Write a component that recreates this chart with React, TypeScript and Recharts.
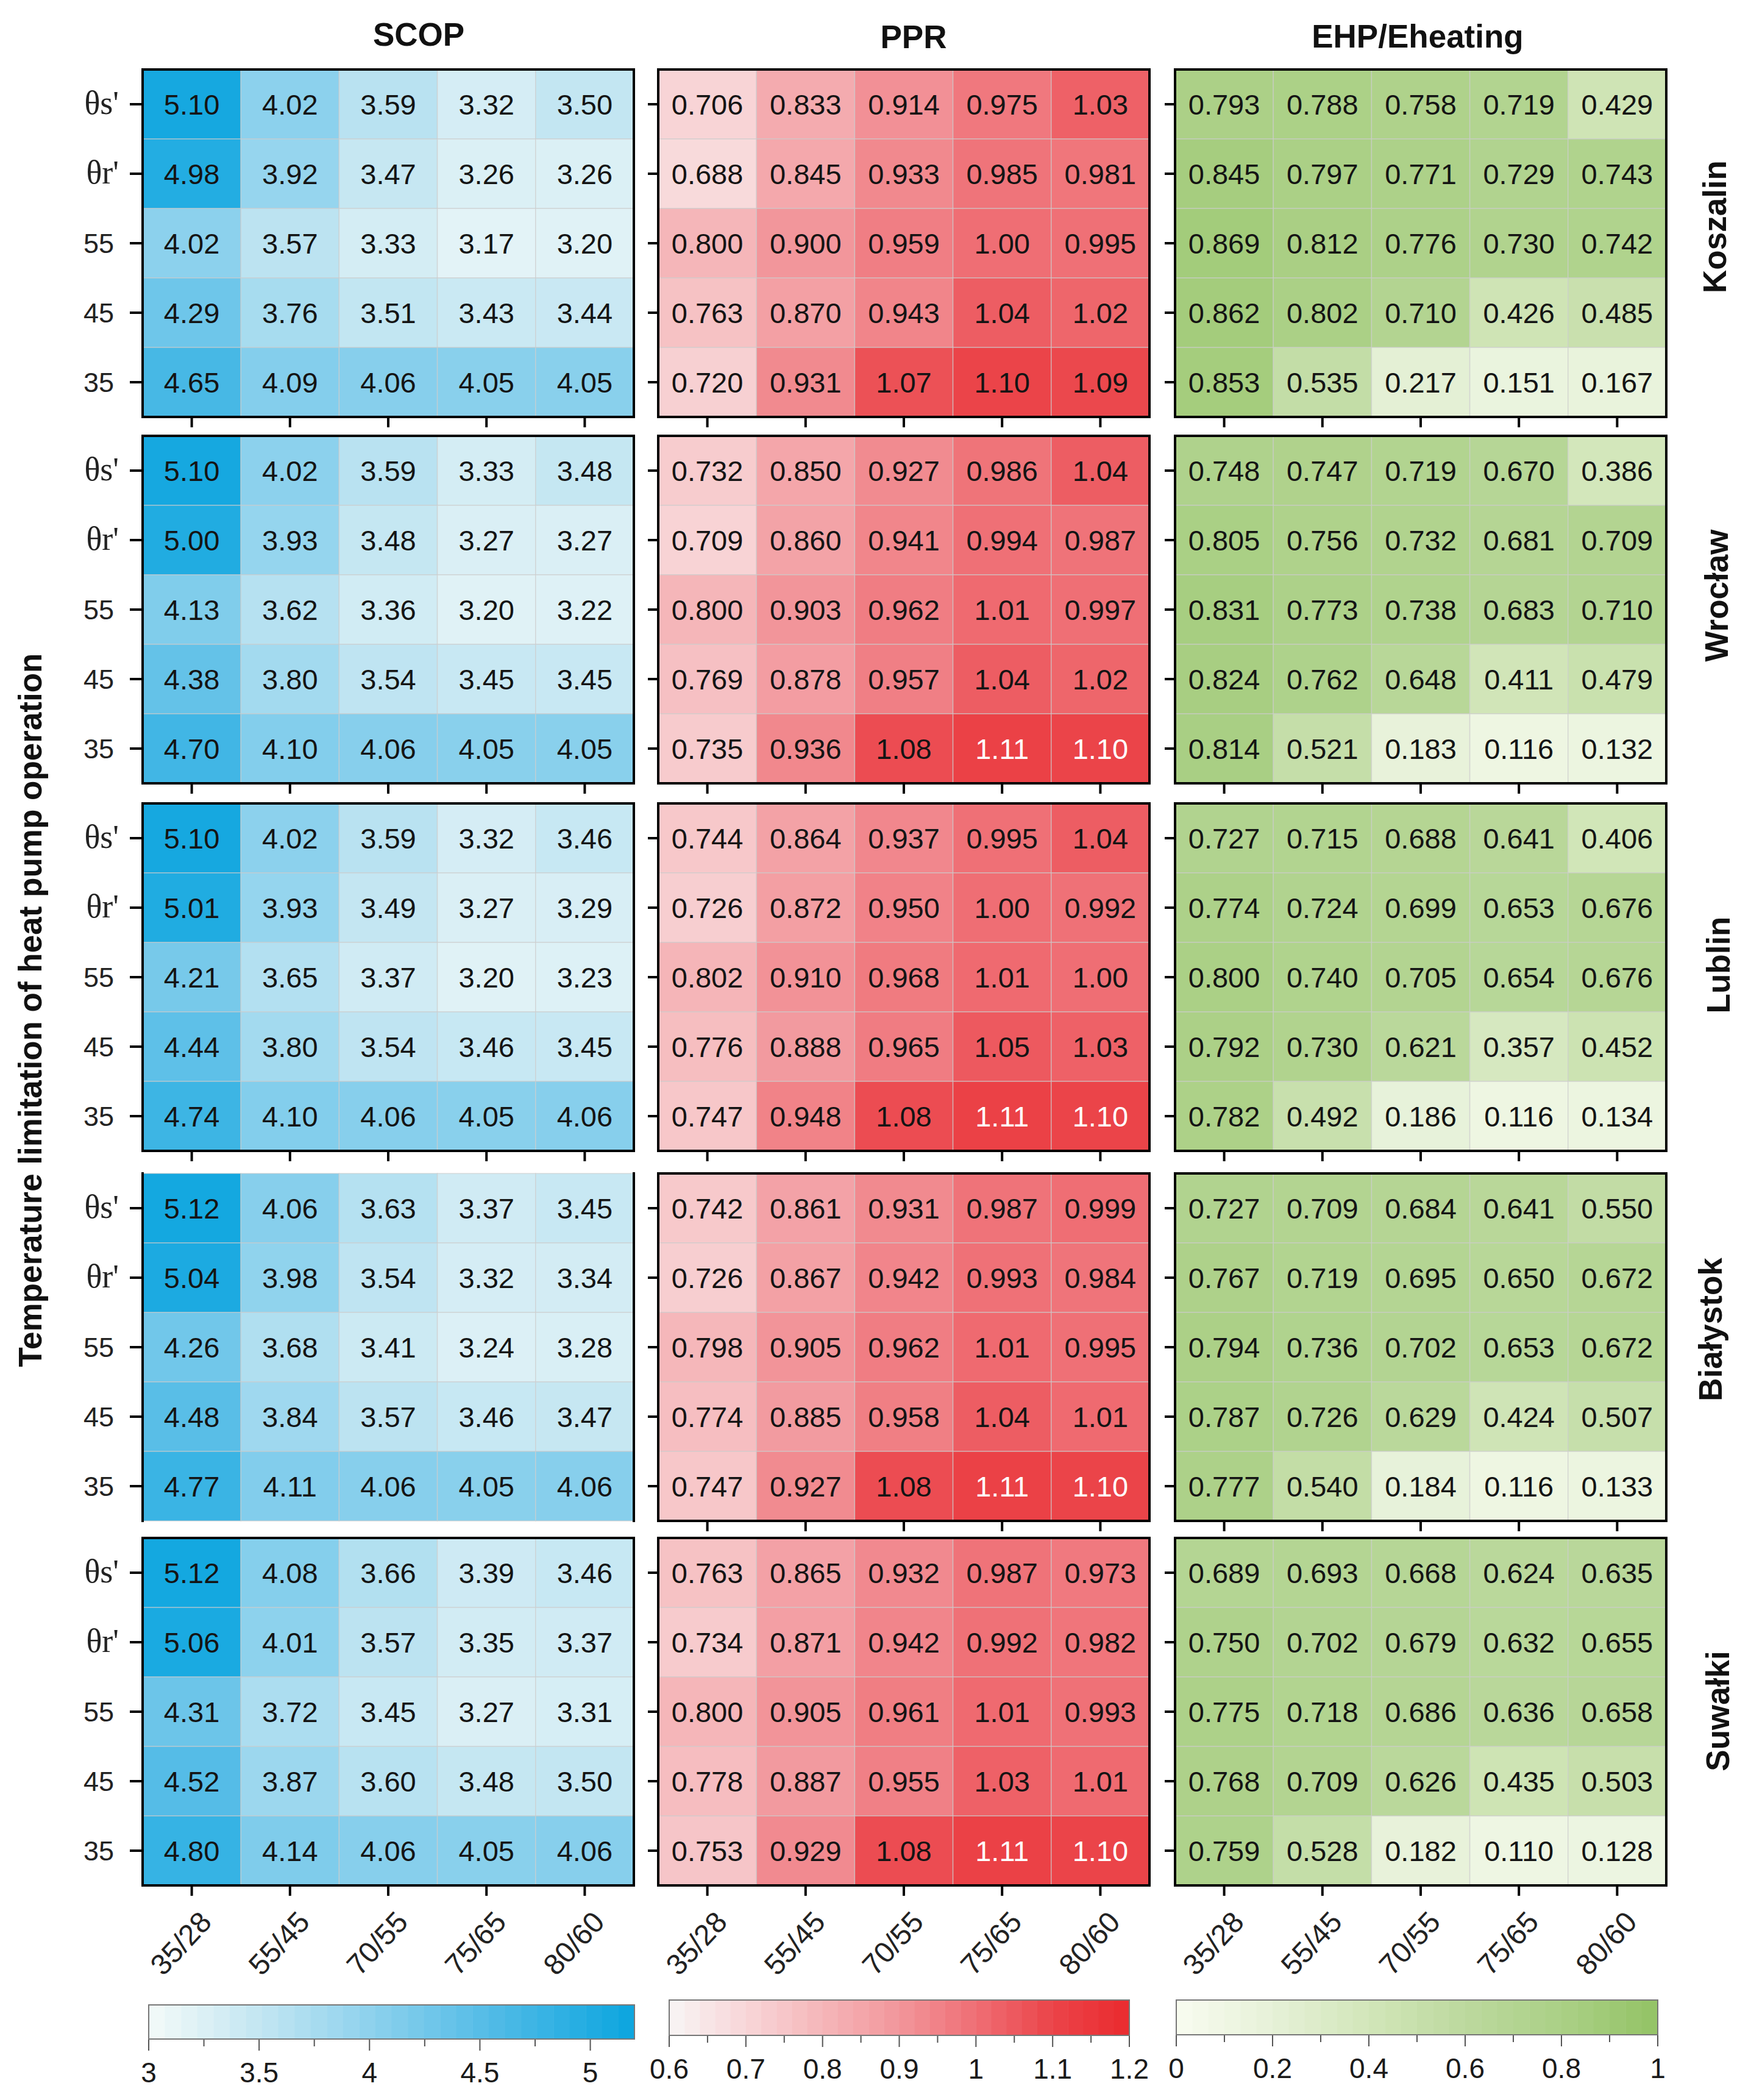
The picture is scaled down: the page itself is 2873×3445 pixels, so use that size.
import { Scatter, ScatterChart, XAxis, YAxis } from "recharts";

const columns = ["35/28", "55/45", "70/55", "75/65", "80/60"];
const rowLabels = ["θs'", "θr'", "55", "45", "35"];
const cities = ["Koszalin", "Wrocław", "Lublin", "Białystok", "Suwałki"];

const scopKoszalin = [
  [5.1, 4.02, 3.59, 3.32, 3.5],
  [4.98, 3.92, 3.47, 3.26, 3.26],
  [4.02, 3.57, 3.33, 3.17, 3.2],
  [4.29, 3.76, 3.51, 3.43, 3.44],
  [4.65, 4.09, 4.06, 4.05, 4.05],
];
const scopWroclaw = [
  [5.1, 4.02, 3.59, 3.33, 3.48],
  [5.0, 3.93, 3.48, 3.27, 3.27],
  [4.13, 3.62, 3.36, 3.2, 3.22],
  [4.38, 3.8, 3.54, 3.45, 3.45],
  [4.7, 4.1, 4.06, 4.05, 4.05],
];
const scopLublin = [
  [5.1, 4.02, 3.59, 3.32, 3.46],
  [5.01, 3.93, 3.49, 3.27, 3.29],
  [4.21, 3.65, 3.37, 3.2, 3.23],
  [4.44, 3.8, 3.54, 3.46, 3.45],
  [4.74, 4.1, 4.06, 4.05, 4.06],
];
const scopBialystok = [
  [5.12, 4.06, 3.63, 3.37, 3.45],
  [5.04, 3.98, 3.54, 3.32, 3.34],
  [4.26, 3.68, 3.41, 3.24, 3.28],
  [4.48, 3.84, 3.57, 3.46, 3.47],
  [4.77, 4.11, 4.06, 4.05, 4.06],
];
const scopSuwalki = [
  [5.12, 4.08, 3.66, 3.39, 3.46],
  [5.06, 4.01, 3.57, 3.35, 3.37],
  [4.31, 3.72, 3.45, 3.27, 3.31],
  [4.52, 3.87, 3.6, 3.48, 3.5],
  [4.8, 4.14, 4.06, 4.05, 4.06],
];

const pprKoszalin = [
  [0.706, 0.833, 0.914, 0.975, 1.03],
  [0.688, 0.845, 0.933, 0.985, 0.981],
  [0.8, 0.9, 0.959, 1.0, 0.995],
  [0.763, 0.87, 0.943, 1.04, 1.02],
  [0.72, 0.931, 1.07, 1.1, 1.09],
];
const pprWroclaw = [
  [0.732, 0.85, 0.927, 0.986, 1.04],
  [0.709, 0.86, 0.941, 0.994, 0.987],
  [0.8, 0.903, 0.962, 1.01, 0.997],
  [0.769, 0.878, 0.957, 1.04, 1.02],
  [0.735, 0.936, 1.08, 1.11, 1.1],
];
const pprLublin = [
  [0.744, 0.864, 0.937, 0.995, 1.04],
  [0.726, 0.872, 0.95, 1.0, 0.992],
  [0.802, 0.91, 0.968, 1.01, 1.0],
  [0.776, 0.888, 0.965, 1.05, 1.03],
  [0.747, 0.948, 1.08, 1.11, 1.1],
];
const pprBialystok = [
  [0.742, 0.861, 0.931, 0.987, 0.999],
  [0.726, 0.867, 0.942, 0.993, 0.984],
  [0.798, 0.905, 0.962, 1.01, 0.995],
  [0.774, 0.885, 0.958, 1.04, 1.01],
  [0.747, 0.927, 1.08, 1.11, 1.1],
];
const pprSuwalki = [
  [0.763, 0.865, 0.932, 0.987, 0.973],
  [0.734, 0.871, 0.942, 0.992, 0.982],
  [0.8, 0.905, 0.961, 1.01, 0.993],
  [0.778, 0.887, 0.955, 1.03, 1.01],
  [0.753, 0.929, 1.08, 1.11, 1.1],
];

const ehpKoszalin = [
  [0.793, 0.788, 0.758, 0.719, 0.429],
  [0.845, 0.797, 0.771, 0.729, 0.743],
  [0.869, 0.812, 0.776, 0.73, 0.742],
  [0.862, 0.802, 0.71, 0.426, 0.485],
  [0.853, 0.535, 0.217, 0.151, 0.167],
];
const ehpWroclaw = [
  [0.748, 0.747, 0.719, 0.67, 0.386],
  [0.805, 0.756, 0.732, 0.681, 0.709],
  [0.831, 0.773, 0.738, 0.683, 0.71],
  [0.824, 0.762, 0.648, 0.411, 0.479],
  [0.814, 0.521, 0.183, 0.116, 0.132],
];
const ehpLublin = [
  [0.727, 0.715, 0.688, 0.641, 0.406],
  [0.774, 0.724, 0.699, 0.653, 0.676],
  [0.8, 0.74, 0.705, 0.654, 0.676],
  [0.792, 0.73, 0.621, 0.357, 0.452],
  [0.782, 0.492, 0.186, 0.116, 0.134],
];
const ehpBialystok = [
  [0.727, 0.709, 0.684, 0.641, 0.55],
  [0.767, 0.719, 0.695, 0.65, 0.672],
  [0.794, 0.736, 0.702, 0.653, 0.672],
  [0.787, 0.726, 0.629, 0.424, 0.507],
  [0.777, 0.54, 0.184, 0.116, 0.133],
];
const ehpSuwalki = [
  [0.689, 0.693, 0.668, 0.624, 0.635],
  [0.75, 0.702, 0.679, 0.632, 0.655],
  [0.775, 0.718, 0.686, 0.636, 0.658],
  [0.768, 0.709, 0.626, 0.435, 0.503],
  [0.759, 0.528, 0.182, 0.11, 0.128],
];

const scopTicks = [3, 3.25, 3.5, 3.75, 4, 4.25, 4.5, 4.75, 5];
const pprTicks = [0.6, 0.65, 0.7, 0.75, 0.8, 0.85, 0.9, 0.95, 1, 1.05, 1.1, 1.15, 1.2];
const ehpTicks = [0, 0.1, 0.2, 0.3, 0.4, 0.5, 0.6, 0.7, 0.8, 0.9, 1];

const scopRamp: [number, string][] = [
  [3, "#f4faf9"],
  [3.5, "#c3e6f2"],
  [4, "#8ed2ed"],
  [4.5, "#57bde7"],
  [5.2, "#0ba5df"],
];
const pprRamp: [number, string][] = [
  [0.6, "#f8f5f5"],
  [0.7, "#f8d6d8"],
  [0.8, "#f5b6b9"],
  [0.9, "#f2969b"],
  [1, "#ef6e74"],
  [1.1, "#eb4449"],
  [1.2, "#ea2a2e"],
];
const ehpRamp: [number, string][] = [
  [0, "#f8fcf0"],
  [0.2, "#e6f1d8"],
  [0.4, "#d2e6b9"],
  [0.6, "#bcd99e"],
  [0.8, "#abd086"],
  [1, "#93c365"],
];

const FONT = "'Liberation Sans', Arial, sans-serif";
const PLOT_W = 806;
const PLOT_H = 570;
const COL_LEFT = [233.5, 1080, 1928];
const ROW_TOP = [114, 715, 1318, 1925, 2523];
const BAR_BANDS = 30;

function hexToRgb(hex: string) {
  return [1, 3, 5].map((i) => parseInt(hex.slice(i, i + 2), 16));
}

function rampColor(ramp: [number, string][], value: number) {
  if (value <= ramp[0][0]) return ramp[0][1];
  for (let i = 1; i < ramp.length; i++) {
    if (value <= ramp[i][0]) {
      const t = (value - ramp[i - 1][0]) / (ramp[i][0] - ramp[i - 1][0]);
      const a = hexToRgb(ramp[i - 1][1]);
      const b = hexToRgb(ramp[i][1]);
      const mix = a.map((c, k) => Math.round(c + (b[k] - c) * t));
      return `rgb(${mix.join(",")})`;
    }
  }
  return ramp[ramp.length - 1][1];
}

const formatScop = (v: number) => v.toFixed(2);
const formatPpr = (v: number) => (v >= 1 ? v.toFixed(2) : v.toFixed(3));
const formatEhp = (v: number) => v.toFixed(3);

function HeatCell(props: any) {
  const { cx, cy, payload, ramp, format, whiteFrom } = props;
  const w = PLOT_W / 5;
  const h = PLOT_H / 5;
  const white = whiteFrom !== undefined && payload.value >= whiteFrom;
  return (
    <g>
      <rect
        x={cx - w / 2}
        y={cy - h / 2}
        width={w}
        height={h}
        fill={rampColor(ramp, payload.value)}
        stroke="rgba(205,205,205,0.65)"
        strokeWidth={1.5}
      />
      <text
        x={cx}
        y={cy + 17}
        textAnchor="middle"
        fontFamily={FONT}
        fontSize={47}
        fill={white ? "#ffffff" : "#141414"}
      >
        {format(payload.value)}
      </text>
    </g>
  );
}

function RowTick({ x, y, payload, show }: any) {
  if (!show) return <g />;
  const isTheta = String(payload.value).startsWith("θ");
  return (
    <text
      x={isTheta ? x + 8 : x}
      y={y + 16}
      textAnchor="end"
      fontFamily={isTheta ? "'Liberation Serif', serif" : FONT}
      fontSize={isTheta ? 54 : 45}
      fill="#222"
    >
      {payload.value}
    </text>
  );
}

function ColumnTick({ x, y, payload, show }: any) {
  if (!show) return <g />;
  return (
    <text
      transform={`translate(${x - 18} ${y + 76}) rotate(-47)`}
      textAnchor="middle"
      dominantBaseline="central"
      fontFamily={FONT}
      fontSize={48}
      fill="#222"
    >
      {payload.value}
    </text>
  );
}

interface HeatPanelProps {
  values: number[][];
  ramp: [number, string][];
  format: (v: number) => string;
  col: number;
  row: number;
  whiteFrom?: number;
  bare?: boolean;
}

function HeatPanel({ values, ramp, format, col, row, whiteFrom, bare }: HeatPanelProps) {
  const points = values.flatMap((line, r) =>
    line.map((value, c) => ({ column: columns[c], rowLabel: rowLabels[r], value })),
  );
  const axisW = col === 0 ? 200 : 40;
  const left = COL_LEFT[col];
  const top = ROW_TOP[row];
  const tickLine = { stroke: "#000", strokeWidth: 4 };

  return (
    <>
      <div style={{ position: "absolute", left: left - axisW, top: top - 6 }}>
        <ScatterChart
          width={axisW + PLOT_W + 4}
          height={PLOT_H + 6 + (row === 4 ? 170 : 24)}
          margin={{ top: 6, right: 4, bottom: 0, left: 0 }}
        >
          <XAxis
            dataKey="column"
            type="category"
            allowDuplicatedCategory={false}
            interval={0}
            axisLine={false}
            tickLine={bare ? false : tickLine}
            tickSize={17}
            height={row === 4 ? 170 : 24}
            tick={<ColumnTick show={row === 4} />}
          />
          <YAxis
            dataKey="rowLabel"
            type="category"
            allowDuplicatedCategory={false}
            reversed
            interval={0}
            axisLine={false}
            tickLine={tickLine}
            tickSize={col === 0 ? 21 : 17}
            tickMargin={26}
            width={axisW}
            tick={<RowTick show={col === 0} />}
          />
          <Scatter
            data={points}
            isAnimationActive={false}
            shape={<HeatCell ramp={ramp} format={format} whiteFrom={whiteFrom} />}
          />
        </ScatterChart>
      </div>
      <div
        style={{
          position: "absolute",
          boxSizing: "border-box",
          left: left - 2,
          top: top - 2,
          width: PLOT_W + 4,
          height: PLOT_H + 4,
          borderStyle: "solid",
          borderColor: "#000",
          borderWidth: bare ? "0 4px" : 4,
        }}
      />
    </>
  );
}

function BarTick({ x, y, payload, major, length, minor }: any) {
  const isMajor = major.includes(payload.value);
  return (
    <g>
      <line x1={x} x2={x} y1={y} y2={y + (isMajor ? length : minor)} stroke="#555" strokeWidth={2} />
      {isMajor ? (
        <text x={x} y={y + length + 52} textAnchor="middle" fontFamily={FONT} fontSize={46} fill="#1a1a1a">
          {payload.value}
        </text>
      ) : null}
    </g>
  );
}

function BarBand({ cx, cy, payload, ramp, bandW, bandH }: any) {
  return (
    <rect
      x={cx - bandW / 2}
      y={cy - bandH / 2}
      width={bandW + 0.5}
      height={bandH}
      fill={rampColor(ramp, payload.tick)}
    />
  );
}

interface ColorBarProps {
  ramp: [number, string][];
  domain: [number, number];
  ticks: number[];
  major: number[];
  left: number;
  top: number;
  width: number;
  height: number;
}

function ColorBar({ ramp, domain, ticks, major, left, top, width, height }: ColorBarProps) {
  const step = (domain[1] - domain[0]) / BAR_BANDS;
  const bands = Array.from({ length: BAR_BANDS }, (_, i) => ({ tick: domain[0] + (i + 0.5) * step, level: 0.5 }));
  return (
    <>
      <div style={{ position: "absolute", left: left - 40, top }}>
        <ScatterChart
          width={width + 80}
          height={height + 90}
          margin={{ top: 0, right: 40, bottom: 0, left: 40 }}
        >
          <XAxis
            type="number"
            dataKey="tick"
            domain={domain}
            ticks={ticks}
            interval={0}
            allowDataOverflow
            axisLine={false}
            tickLine={false}
            tickSize={0}
            tickMargin={0}
            height={90}
            tick={<BarTick major={major} length={19} minor={12} />}
          />
          <YAxis type="number" dataKey="level" domain={[0, 1]} hide />
          <Scatter
            data={bands}
            isAnimationActive={false}
            shape={<BarBand ramp={ramp} bandW={width / BAR_BANDS} bandH={height} />}
          />
        </ScatterChart>
      </div>
      <div
        style={{
          position: "absolute",
          boxSizing: "border-box",
          left: left - 1,
          top: top - 1,
          width: width + 2,
          height: height + 2,
          border: "2px solid #777",
        }}
      />
    </>
  );
}

const scopPanels = [scopKoszalin, scopWroclaw, scopLublin, scopBialystok, scopSuwalki];
const pprPanels = [pprKoszalin, pprWroclaw, pprLublin, pprBialystok, pprSuwalki];
const ehpPanels = [ehpKoszalin, ehpWroclaw, ehpLublin, ehpBialystok, ehpSuwalki];

const cityLabelY = [372, 977, 1583, 2181, 2807];
const cityLabelX = [2832, 2835, 2838, 2825, 2837];

export default function App() {
  return (
    <div style={{ position: "absolute", left: 0, top: 0, width: 2873, height: 3445, background: "#fff" }}>
      {cities.map((city, row) => (
        <div key={city}>
          <HeatPanel values={scopPanels[row]} ramp={scopRamp} format={formatScop} col={0} row={row} bare={row === 3} />
          <HeatPanel
            values={pprPanels[row]}
            ramp={pprRamp}
            format={formatPpr}
            col={1}
            row={row}
            whiteFrom={row === 0 ? undefined : 1.1}
          />
          <HeatPanel values={ehpPanels[row]} ramp={ehpRamp} format={formatEhp} col={2} row={row} />
        </div>
      ))}

      <ColorBar ramp={scopRamp} domain={[3, 5.2]} ticks={scopTicks} major={[3, 3.5, 4, 4.5, 5]} left={244} top={3289} width={797} height={56} />
      <ColorBar ramp={pprRamp} domain={[0.6, 1.2]} ticks={pprTicks} major={[0.6, 0.7, 0.8, 0.9, 1, 1.1, 1.2]} left={1098} top={3281} width={755} height={58} />
      <ColorBar ramp={ehpRamp} domain={[0, 1]} ticks={ehpTicks} major={[0, 0.2, 0.4, 0.6, 0.8, 1]} left={1930} top={3281} width={790} height={57} />

      <svg width={2873} height={3445} style={{ position: "absolute", left: 0, top: 0, pointerEvents: "none" }}>
        <g fontFamily={FONT} fontWeight="bold" fill="#111" textAnchor="middle">
          <text x={687} y={75} fontSize={53}>SCOP</text>
          <text x={1499} y={79} fontSize={53}>PPR</text>
          <text x={2326} y={78} fontSize={53}>EHP/Eheating</text>
          <text transform="translate(68 1657) rotate(-90)" fontSize={53}>
            Temperature limitation of heat pump operation
          </text>
          {cities.map((city, i) => (
            <text key={city} transform={`translate(${cityLabelX[i]} ${cityLabelY[i]}) rotate(-90)`} fontSize={53}>
              {city}
            </text>
          ))}
        </g>
      </svg>
    </div>
  );
}
